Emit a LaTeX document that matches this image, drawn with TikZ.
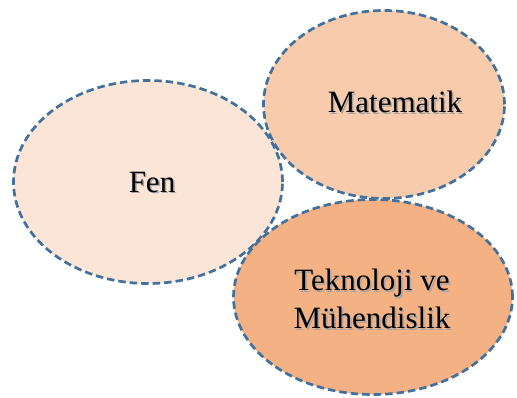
\documentclass[tikz,border=0pt]{standalone}
\usepackage{fontspec}
\setmainfont{Liberation Serif}
\usetikzlibrary{shapes.geometric}
\definecolor{edgeblue}{HTML}{41719C}
\definecolor{fenfill}{HTML}{FBE5D6}
\definecolor{matfill}{HTML}{F8CBAD}
\definecolor{tekfill}{HTML}{F4B183}
% text with a soft drop shadow set behind it
\newcommand{\shadowtext}[1]{\leavevmode\rlap{\hspace{1.6pt}\raisebox{-1.6pt}{\textcolor{black!35}{#1}}}#1}
\tikzset{
  bubble/.style={ellipse, draw=edgeblue, line width=2.7pt,
    dash pattern=on 7.5pt off 4pt, inner sep=0pt},
  label/.style={font=\fontsize{31}{38}\selectfont, align=center, text=black}
}
\begin{document}
\begin{tikzpicture}[x=1pt,y=-1pt]
  \useasboundingbox (0,0) rectangle (517,398);
  % three overlapping ellipses
  \node[bubble, fill=matfill, minimum width=241pt, minimum height=188pt] (mat) at (384,104.5) {};
  \node[bubble, fill=fenfill, minimum width=269pt, minimum height=203pt] (fen) at (148,182) {};
  \node[bubble, fill=tekfill, minimum width=279pt, minimum height=195pt] (tek) at (373,297) {};
  % labels
  \node[label] (fent) at (152,183) {\shadowtext{Fen}};
  \node[label] (matt) at (395,103) {\shadowtext{Matematik}};
  \node[label] (tekt) at (372,300) {\shadowtext{Teknoloji ve}\\\shadowtext{Mühendislik}};
\end{tikzpicture}
\end{document}
